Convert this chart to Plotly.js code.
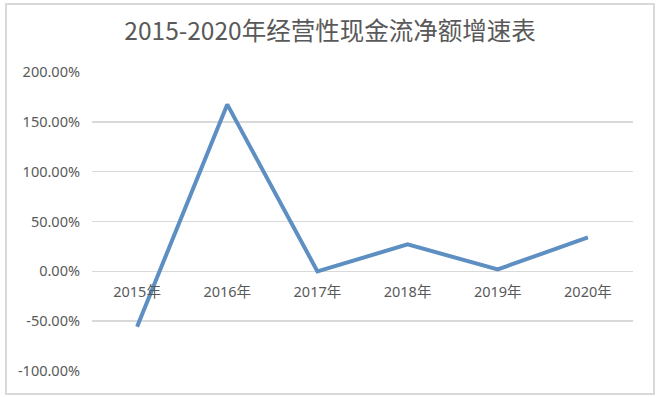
<!DOCTYPE html>
<html><head><meta charset="utf-8">
<script src="https://cdn.plot.ly/plotly-3.0.1.min.js"></script>
<style>
html,body{margin:0;padding:0;background:#fff;}
#frame{position:absolute;left:5px;top:3px;width:646px;height:388px;border:2px solid #d9d9d9;}
#chart{position:absolute;left:0;top:0;width:660px;height:397px;}
</style></head>
<body>
<div id="frame"></div>
<div id="chart"></div>
<script>
const categories = ['2015年','2016年','2017年','2018年','2019年','2020年'];
const growth = [-55.5, 167.5, 0.0, 27.0, 2.0, 34.0];
const yTickVals = [-100, -50, 0, 50, 100, 150, 200];
const yTickText = ['-100.00%','-50.00%','0.00%','50.00%','100.00%','150.00%','200.00%'];
const titleText = '2015-2020年经营性现金流净额增速表';

const fontFam = '"Noto Sans", "Noto Sans CJK SC", sans-serif';
Plotly.newPlot('chart', [{
  type: 'scatter', mode: 'lines',
  x: categories, y: growth,
  line: {color: '#5d8fc2', width: 4},
  hoverinfo: 'skip'
}], {
  width: 660, height: 397,
  margin: {l: 92, r: 27, t: 72, b: 26},
  paper_bgcolor: 'rgba(0,0,0,0)', plot_bgcolor: 'rgba(0,0,0,0)',
  showlegend: false,
  title: {text: titleText, x: 0.5, xref: 'container', xanchor: 'center', y: 1 - 31/397, yref: 'container', yanchor: 'middle',
          font: {family: '"Noto Sans CJK SC", sans-serif', size: 24.5, color: '#595959'}},
  xaxis: {
    type: 'category', range: [-0.5, 5.5],
    anchor: 'free', position: 1/3,
    showline: false, showgrid: false, zeroline: false, ticks: '',
    ticklabelstandoff: 10,
    tickfont: {family: fontFam, size: 14.5, color: '#595959'}
  },
  yaxis: {
    range: [-100, 200], tickvals: yTickVals, ticktext: yTickText,
    showgrid: true, gridcolor: '#d9d9d9', gridwidth: 1.5,
    zeroline: true, zerolinecolor: '#d9d9d9', zerolinewidth: 1.5,
    showline: false, ticks: '', ticklabelstandoff: 11,
    tickfont: {family: fontFam, size: 14.5, color: '#595959'}
  }
}, {staticPlot: true, displayModeBar: false});
</script>
</body></html>
